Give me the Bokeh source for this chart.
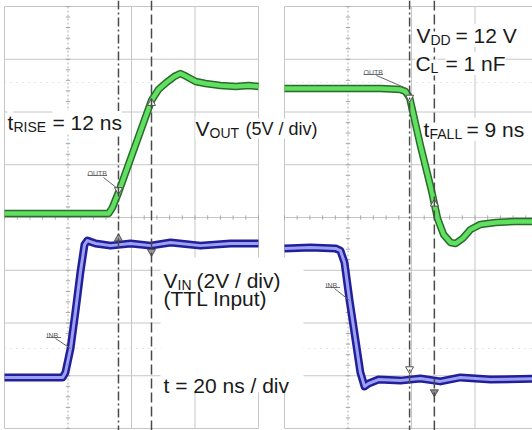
import numpy as np
from bokeh.plotting import figure
from bokeh.models import Range1d, Label, Span
from bokeh.embed import file_html
from bokeh.resources import INLINE

# ---------------- data read from the two scope captures ----------------
NS_PER_DIV = 20.0
VOUT_V_PER_DIV = 5.0
VIN_V_PER_DIV = 2.0

# left capture: rising edge (time in ns from left edge of capture, volts)
vout_rise_t = [0, 32.8, 34.0, 35.9, 46.3, 48.5, 51.0, 53.5, 55.4, 57.3, 60.2, 63.3, 68.0, 72.8, 76.9, 80.0]
vout_rise_v = [0, 0, 0.57, 1.99, 10.71, 11.75, 12.42, 12.99, 13.27, 12.99, 12.51, 12.32, 12.13, 12.04, 12.13, 12.04]
vin_rise_t = [0, 18.3, 19.2, 20.8, 22.4, 23.9, 25.2, 26.1, 28.7, 33.4, 39.7, 46.0, 52.3, 61.7, 71.2, 80.0]
vin_rise_v = [0, 0, 0.19, 1.10, 2.54, 3.98, 5.04, 5.19, 5.08, 5.00, 5.08, 5.00, 5.12, 5.00, 5.08, 5.08]

# right capture: falling edge
vout_fall_t = [0, 14.5, 30.2, 36.5, 38.1, 39.4, 42.8, 46.3, 48.2, 50.1, 52.3, 53.9, 56.1, 58.6, 61.7, 66.5, 72.8, 80.6]
vout_fall_v = [12.61, 12.61, 12.61, 12.51, 12.32, 11.75, 7.20, 2.94, 0.28, -1.23, -1.99, -2.09, -1.61, -0.76, -0.28, -0.09, 0, 0]
vin_fall_t = [0, 8.2, 16.1, 17.6, 18.9, 20.5, 22.4, 23.9, 25.2, 26.5, 29.6, 36.5, 42.8, 49.1, 55.4, 64.9, 80.6]
vin_fall_v = [4.93, 4.97, 4.93, 4.85, 4.40, 2.96, 1.44, 0.23, -0.30, -0.19, -0.04, -0.08, 0, -0.11, 0.04, -0.04, 0]

# measurement cursors (ns)
cursor_rise_t = [35.9, 46.3]
cursor_fall_t = [39.4, 47.2]

# ---------------- layout constants (screen geometry of the scope grid) ----------------
PX_X = 63.5      # px per horizontal division
PX_Y = 52.75     # px per vertical division
W, H = 532, 430
X0_REF, Y0_REF = 4, 428   # pixel of division origin

def dx(X):
    return (X - X0_REF) / PX_X

def dy(Y):
    return (Y0_REF - Y) / PX_Y

LEFT_OFF = 0.0
RIGHT_OFF = dx(284)
PANEL_DIVS = 4
VERT_DIVS = 8
GND = {"vout_l": dy(213), "vout_r": dy(221), "vin_l": dy(377), "vin_r": dy(378)}

p = figure(width=W, height=H, x_range=Range1d(dx(0), dx(0) + W / PX_X),
           y_range=Range1d(dy(430), dy(430) + H / PX_Y),
           output_backend="svg", toolbar_location=None,
           x_axis_location=None, y_axis_location=None, min_border=0)
p.grid.visible = False
p.outline_line_color = None
p.background_fill_color = "white"
p.border_fill_color = "white"

GRID = "#c6c6c6"
for off in (LEFT_OFF, RIGHT_OFF):
    vx = [off + k for k in range(PANEL_DIVS + 1) if k != 1]
    p.segment(x0=vx, y0=[0] * len(vx), x1=vx, y1=[VERT_DIVS] * len(vx), line_color=GRID, line_width=1)
    hy = list(range(VERT_DIVS + 1))
    p.segment(x0=[off] * len(hy), y0=hy, x1=[off + PANEL_DIVS] * len(hy), y1=hy, line_color=GRID, line_width=1)
    p.segment(x0=[off + 1], y0=[0], x1=[off + 1], y1=[VERT_DIVS], line_color="#b0b0b0", line_width=1, line_dash="2 2")
    ty = np.arange(0, VERT_DIVS + 0.001, 0.2)
    p.segment(x0=off + 1 - 0.035, y0=ty, x1=off + 1 + 0.035, y1=ty, line_color="#a8a8a8", line_width=1)
    tx = off + np.arange(0, PANEL_DIVS + 0.001, 0.2)
    p.segment(x0=tx, y0=4 - 0.04, x1=tx, y1=4 + 0.04, line_color="#a8a8a8", line_width=1)
    for yy in (dy(82), dy(348)):
        p.segment(x0=[off], y0=[yy], x1=[off + PANEL_DIVS], y1=[yy], line_color="#cccccc", line_width=1, line_dash="1 5")

# white box behind the input annotation
p.quad(left=[dx(160)], right=[dx(303)], bottom=[dy(392)], top=[dy(257)], fill_color="white", line_color=None)

# cursors
for off, cts in ((LEFT_OFF, cursor_rise_t), (RIGHT_OFF, cursor_fall_t)):
    p.add_layout(Span(location=off + cts[0] / NS_PER_DIV, dimension="height", line_color="#4a4a4a",
                      line_width=1.5, line_dash="9 3 2 3"))
    p.add_layout(Span(location=off + cts[1] / NS_PER_DIV, dimension="height", line_color="#4a4a4a",
                      line_width=1.5, line_dash="10 4"))

def trace(t, v, off, gnd, vdiv, dark, light, wd, wl):
    x = off + np.asarray(t) / NS_PER_DIV
    y = gnd + np.asarray(v) / vdiv
    p.line(x, y, line_width=wd, line_color=dark, line_join="round")
    p.line(x, y, line_width=wl, line_color=light, line_join="round")

GREEN_D, GREEN_L = "#2a6a2a", "#60e060"
BLUE_D, BLUE_L = "#20209a", "#a0a0f2"
trace(vout_rise_t, vout_rise_v, LEFT_OFF, GND["vout_l"], VOUT_V_PER_DIV, GREEN_D, GREEN_L, 7.5, 4.5)
trace(vin_rise_t, vin_rise_v, LEFT_OFF, GND["vin_l"], VIN_V_PER_DIV, BLUE_D, BLUE_L, 8, 3)
trace(vout_fall_t, vout_fall_v, RIGHT_OFF, GND["vout_r"], VOUT_V_PER_DIV, GREEN_D, GREEN_L, 7.5, 4.5)
trace(vin_fall_t, vin_fall_v, RIGHT_OFF, GND["vin_r"], VIN_V_PER_DIV, BLUE_D, BLUE_L, 8, 3)

def mark(t_list, v_t, v_v, off, gnd, vdiv, markers, fills, dys):
    for tc, mk, fc, d in zip(t_list, markers, fills, dys):
        yv = gnd + np.interp(tc, v_t, v_v) / vdiv + d
        p.scatter([off + tc / NS_PER_DIV], [yv], marker=mk, size=8, fill_color=fc, line_color="#555555", line_width=1)

mark(cursor_rise_t, vout_rise_t, vout_rise_v, LEFT_OFF, GND["vout_l"], VOUT_V_PER_DIV,
     ["inverted_triangle", "triangle"], ["white", "white"], [0.05, -0.05])
mark(cursor_rise_t, vin_rise_t, vin_rise_v, LEFT_OFF, GND["vin_l"], VIN_V_PER_DIV,
     ["triangle", "inverted_triangle"], ["#999999", "#999999"], [0.12, -0.12])
mark(cursor_fall_t, vout_fall_t, vout_fall_v, RIGHT_OFF, GND["vout_r"], VOUT_V_PER_DIV,
     ["inverted_triangle", "triangle"], ["white", "white"], [0.0, 0.0])
mark(cursor_fall_t, vin_fall_t, vin_fall_v, RIGHT_OFF, GND["vin_r"], VIN_V_PER_DIV,
     ["inverted_triangle", "inverted_triangle"], ["white", "#888888"], [0.2, -0.22])

# ---------------- annotation texts ----------------
FONT = "Liberation Sans"
TXT = "#1a1a1a"

def lab(text, X, Y, size, color=TXT, bg="white"):
    p.add_layout(Label(x=dx(X), y=dy(Y), text=text, text_font=FONT, text_font_size=f"{size}px",
                       text_color=color, text_baseline="alphabetic", text_align="left",
                       background_fill_color=bg))

lab("t", 7, 122, 21); lab("RISE", 13, 126, 14); lab("= 12 ns", 52, 122, 21)
lab("V", 195, 128, 21); lab("OUT", 209, 132, 14); lab("(5V / div)", 245, 128, 18)
lab("V", 416, 35, 21); lab("DD", 430, 39, 14); lab("= 12 V", 455, 35, 21)
lab("C", 415, 63, 21); lab("L", 430, 67, 14); lab("= 1 nF", 445, 63, 21)
lab("t", 423, 129, 21); lab("FALL", 429, 133, 14); lab("= 9 ns", 466, 129, 21)
lab("V", 163, 280, 21, bg=None); lab("IN", 177, 284, 14, bg=None); lab("(2V / div)", 196, 280, 21, bg=None)
lab("(TTL Input)", 163, 298, 21, bg=None)
lab("t = 20 ns / div", 163, 385, 21, bg=None)

def tag(text, X, Y, lead):
    lab(text, X, Y, 7, color="#555555", bg=None)
    w = 4.9 * len(text)
    p.segment(x0=[dx(X)], y0=[dy(Y + 2)], x1=[dx(X + w)], y1=[dy(Y + 2)], line_color="#777777", line_width=1)
    p.segment(x0=[dx(lead[0])], y0=[dy(lead[1])], x1=[dx(lead[2])], y1=[dy(lead[3])], line_color="#666666", line_width=1)

tag("OUTB", 87, 173, (103, 177, 117, 188))
tag("OUTB", 363, 72, (376, 75, 406, 88))
tag("INB", 46, 335, (55, 338, 70, 348))
tag("INB", 325, 285, (334, 288, 349, 300))

open("out.html", "w").write(file_html(p, INLINE))
